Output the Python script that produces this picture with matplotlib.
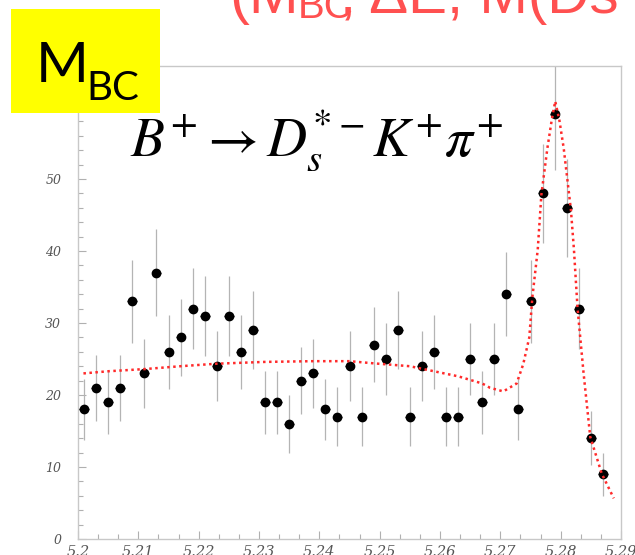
#!/usr/bin/env python
"""M_BC distribution for B+ -> Ds*- K+ pi+ with fit overlay."""
import matplotlib
matplotlib.use("Agg")
import matplotlib.pyplot as plt
import matplotlib.patches as mpatches
from matplotlib.ticker import MultipleLocator, FuncFormatter
import numpy as np

W, H = 635, 555

# histogram bin centres (GeV) and counts
bin_centres = [5.201, 5.203, 5.205, 5.207, 5.209, 5.211, 5.213, 5.215, 5.217, 5.219,
               5.221, 5.223, 5.225, 5.227, 5.229, 5.231, 5.233, 5.235, 5.237, 5.239,
               5.241, 5.243, 5.245, 5.247, 5.249, 5.251, 5.253, 5.255, 5.257, 5.259,
               5.261, 5.263, 5.265, 5.267, 5.269, 5.271, 5.273, 5.275, 5.277, 5.279,
               5.281, 5.283, 5.285, 5.287]
counts = [18, 21, 19, 21, 33, 23, 37, 26, 28, 32,
          31, 24, 31, 26, 29, 19, 19, 16, 22, 23,
          18, 17, 24, 17, 27, 25, 29, 17, 24, 26,
          17, 17, 25, 19, 25, 34, 18, 33, 48, 59,
          46, 32, 14, 9]

# fit curve
fit_x = [5.2009, 5.205, 5.211, 5.217, 5.223, 5.231, 5.239, 5.245, 5.249, 5.255,
         5.259, 5.263, 5.267, 5.2683, 5.2705, 5.2727, 5.2738, 5.2748, 5.2753, 5.2762,
         5.2768, 5.2778, 5.2785, 5.2791, 5.2798, 5.2805, 5.2817, 5.2822, 5.2828, 5.2838,
         5.2849, 5.2868, 5.2888]
fit_y = [23.0, 23.3, 23.6, 24.0, 24.35, 24.6, 24.7, 24.7, 24.4, 24.0,
         23.3, 22.6, 21.6, 21.0, 20.5, 21.6, 24.3, 28.0, 33.5, 40.2,
         47.8, 54.3, 58.1, 60.8, 58.1, 54.3, 45.7, 40.2, 32.0, 23.0,
         14.2, 9.1, 5.65]

x_ticks = [5.2, 5.21, 5.22, 5.23, 5.24, 5.25, 5.26, 5.27, 5.28, 5.29]
y_ticks = [0, 10, 20, 30, 40, 50, 60]


def px(x, y):
    """pixel position (from top-left) to figure fraction"""
    return x / W, 1 - y / H


fig = plt.figure(figsize=(W / 100, H / 100), dpi=100)
ax = fig.add_axes([78 / W, (H - 539) / H, 543 / W, 473 / H])

x = np.array(bin_centres)
n = np.array(counts, dtype=float)
ax.errorbar(x, n, yerr=np.sqrt(n), fmt="none", ecolor="#b4b4b4", elinewidth=0.9, zorder=2)
ax.errorbar(x, n, xerr=0.0008, fmt="o", color="black", ms=6, elinewidth=1.0, zorder=3)
ax.plot(fit_x, fit_y, color="#ff2a2a", lw=1.8, linestyle=(0, (1, 1.4)), zorder=4)

ax.set_xlim(5.2, 5.29)
ax.set_ylim(0, 65.7)
ax.set_xticks(x_ticks)
ax.set_yticks(y_ticks)
ax.xaxis.set_minor_locator(MultipleLocator(0.01 / 3))
ax.yaxis.set_minor_locator(MultipleLocator(2))
ax.xaxis.set_major_formatter(FuncFormatter(lambda v, p: f"{v:.2f}".rstrip("0").rstrip(".")))

for side in ax.spines.values():
    side.set_color("#c8c8c8")
    side.set_linewidth(1.0)
ax.tick_params(which="both", direction="in", color="#b0b0b0", width=0.8)
ax.tick_params(which="major", length=6)
ax.tick_params(which="minor", length=3.5)
ax.tick_params(axis="y", pad=12, labelsize=9, labelcolor="#555555")
ax.tick_params(axis="x", pad=4, labelsize=10.5, labelcolor="#555555")
for lab in ax.get_xticklabels() + ax.get_yticklabels():
    lab.set_family("DejaVu Serif")
    lab.set_style("italic")

# yellow M_BC box
fig.patches.append(mpatches.Rectangle(px(11, 113), 149 / W, 104 / H, transform=fig.transFigure,
                                      facecolor="#ffff00", edgecolor="none", zorder=5))
fig.text(*px(36, 82), "M", fontsize=41, family="Lato", color="black", va="baseline", zorder=6)
fig.text(*px(86, 100), "BC", fontsize=29, family="Lato", color="black", va="baseline", zorder=6)

# decay formula
fig.text(*px(130, 156), r"$B^{+}\rightarrow D_{s}^{*-}K^{+}\pi^{+}$", fontsize=40,
         math_fontfamily="stix", color="black", va="baseline", zorder=6)

# red heading clipped at top of the slide
red = "#ff5050"
fig.text(*px(229, 13), "(M", fontsize=43, family="Liberation Sans", color=red, va="baseline")
fig.text(*px(298, 18), "BC", fontsize=29, family="Liberation Sans", color=red, va="baseline")
fig.text(*px(340, 13), ", ΔE, M(Ds", fontsize=42, family="Liberation Sans", color=red, va="baseline")

fig.savefig("out.png", dpi=100)
plt.close(fig)
print("saved out.png")
